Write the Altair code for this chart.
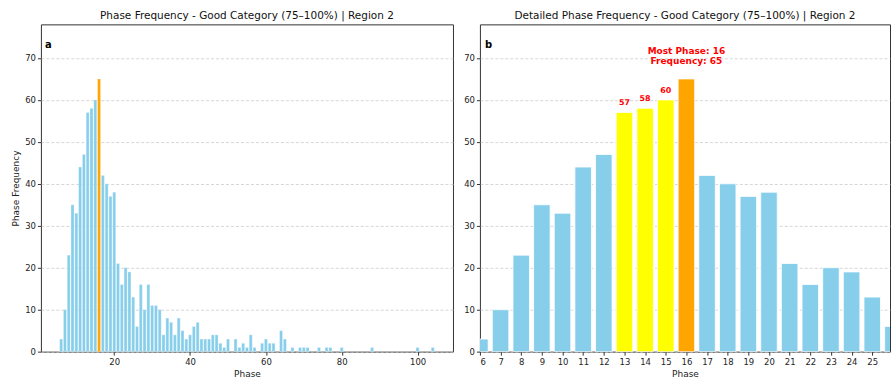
import altair as alt
import pandas as pd

# ---- data ----
phases = [6, 7, 8, 9, 10, 11, 12, 13, 14, 15, 16, 17, 18, 19, 20, 21, 22, 23, 24, 25,
          26, 27, 28, 29, 30, 31, 32, 33, 34, 35, 36, 37, 38, 39, 40, 41, 42, 43, 44, 45,
          46, 47, 48, 49, 50, 52, 53, 54, 55, 56, 57, 59, 60, 61, 62, 64, 65, 67, 69, 70,
          71, 74, 76, 77, 80, 88, 100, 104]
freqs = [3, 10, 23, 35, 33, 44, 47, 57, 58, 60, 65, 42, 40, 37, 38, 21, 16, 20, 19, 13,
         6, 16, 10, 16, 11, 11, 10, 4, 8, 7, 4, 8, 5, 3, 4, 6, 7, 3, 3, 3,
         4, 4, 2, 1, 3, 3, 1, 2, 1, 4, 1, 2, 3, 2, 2, 5, 3, 1, 1, 1,
         1, 1, 1, 1, 1, 1, 1, 1]
most_phase = 16
most_freq = 65
next_phases = [13, 14, 15]
next_freqs = [57, 58, 60]
left_ticks = [20, 40, 60, 80, 100]
right_ticks = list(range(6, 26))
y_ticks = [0, 10, 20, 30, 40, 50, 60, 70]

BLUE = "#87CEEB"
ORANGE = "#FFA500"
YELLOW = "#FFFF00"
FONT = "DejaVu Sans"

df = pd.DataFrame({"phase": phases, "freq": freqs})
df["left_color"] = [ORANGE if p == most_phase else BLUE for p in phases]
df["right_color"] = [ORANGE if p == most_phase else (YELLOW if p in next_phases else BLUE)
                     for p in phases]
df_right = df[df["phase"] <= 26]

ann = pd.DataFrame({"phase": next_phases, "freq": next_freqs,
                    "label": [str(v) for v in next_freqs]})
top_ann = pd.DataFrame({"phase": [most_phase], "freq": [most_freq],
                        "label": [f"Most Phase: {most_phase}\nFrequency: {most_freq}"]})

y_scale = alt.Scale(domain=[0, 78], nice=False)

# ---- left panel ----
left_bars = alt.Chart(df).transform_calculate(
    lo="datum.phase - 0.4", hi="datum.phase + 0.4"
).mark_bar(stroke="white", strokeWidth=0.4, strokeOpacity=0.8).encode(
    x=alt.X("lo:Q", scale=alt.Scale(domain=[0.66, 109.34], nice=False, zero=False),
            axis=alt.Axis(values=left_ticks, title="Phase", grid=False, format="d")),
    x2="hi:Q",
    y=alt.Y("freq:Q", scale=y_scale,
            axis=alt.Axis(values=y_ticks, title="Phase Frequency", grid=True)),
    y2=alt.datum(0),
    color=alt.Color("left_color:N", scale=None),
)
left_label = alt.Chart(pd.DataFrame({"t": ["a"]})).mark_text(
    align="left", baseline="middle", fontWeight="bold", fontSize=10, font=FONT, color="black"
).encode(x=alt.value(4), y=alt.value(21), text="t:N")

left = alt.layer(left_bars, left_label).properties(
    width=413, height=328,
    title=alt.TitleParams("Phase Frequency - Good Category (75–100%) | Region 2"),
)

# ---- right panel ----
xr = alt.Scale(domain=[6, 25.86], nice=False, zero=False)
xr_axis = alt.Axis(values=right_ticks, title="Phase", grid=False, format="d", labelOverlap=False)
yr_axis = alt.Axis(values=y_ticks, title=None, grid=True)
right_bars = alt.Chart(df_right).transform_calculate(
    lo="datum.phase - 0.4", hi="datum.phase + 0.4"
).mark_bar(stroke="white", strokeWidth=0.8, clip=True).encode(
    x=alt.X("lo:Q", scale=xr, axis=xr_axis),
    x2="hi:Q",
    y=alt.Y("freq:Q", scale=y_scale, axis=yr_axis),
    y2=alt.datum(0),
    color=alt.Color("right_color:N", scale=None),
)
right_ann = alt.Chart(ann).mark_text(
    color="red", fontWeight="bold", fontSize=8, font=FONT, baseline="bottom", dy=-5
).encode(x=alt.X("phase:Q", scale=xr, axis=xr_axis),
         y=alt.Y("freq:Q", scale=y_scale, axis=yr_axis), text="label:N")
right_top = alt.Chart(top_ann).mark_text(
    color="red", fontWeight="bold", fontSize=9, font=FONT, baseline="bottom", dy=-23,
    lineBreak="\n", lineHeight=10.5
).encode(x=alt.X("phase:Q", scale=xr, axis=xr_axis),
         y=alt.Y("freq:Q", scale=y_scale, axis=yr_axis), text="label:N")
right_label = alt.Chart(pd.DataFrame({"t": ["b"]})).mark_text(
    align="left", baseline="middle", fontWeight="bold", fontSize=10, font=FONT, color="black"
).encode(x=alt.value(5), y=alt.value(21), text="t:N")

right = alt.layer(right_bars, right_ann, right_top, right_label).properties(
    width=411, height=328,
    title=alt.TitleParams("Detailed Phase Frequency - Good Category (75–100%) | Region 2"),
)

chart = alt.hconcat(left, right, spacing=9).properties(
    padding={"left": 11, "top": 10, "right": 0, "bottom": 0},
    background="white",
).configure_view(
    stroke="#333333", strokeWidth=1
).configure_axis(
    domain=False, tickColor="#333333", tickSize=3.5, labelFont=FONT, labelFontSize=8.5,
    labelColor="#222222", titleFont=FONT, titleFontSize=9, titleFontWeight="normal",
    titleColor="#222222", gridColor="#cccccc", gridDash=[3, 2], gridWidth=0.8,
    labelPadding=2, titlePadding=4, labelOverlap=False,
).configure_title(
    font=FONT, fontSize=10.5, fontWeight="normal", color="#111111", offset=3, anchor="middle"
)

chart.save("out.html", embed_options={"renderer": "svg", "actions": False})
